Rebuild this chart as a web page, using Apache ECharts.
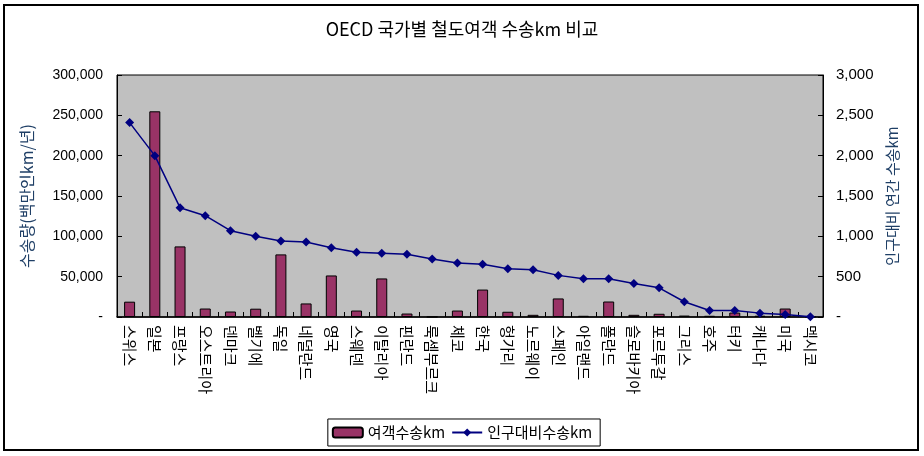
<!DOCTYPE html>
<html>
<head>
<meta charset="utf-8">
<script src="https://cdn.jsdelivr.net/npm/echarts@6/dist/echarts.min.js"></script>
<style>
html,body{margin:0;padding:0;background:#fff;}
#chart{position:absolute;left:0;top:0;width:924px;height:456px;}
#frame{position:absolute;left:3px;top:4px;width:912px;height:443px;border:2px solid #000;pointer-events:none;}
</style>
</head>
<body>
<div id="chart"></div>
<div id="frame"></div>
<script>
const chartTitle = 'OECD 국가별 철도여객 수송km 비교';
const categories = ['스위스','일본','프랑스','오스트리아','덴마크','벨기에','독일','네덜란드','영국','스웨덴','이탈리아','핀란드','룩셈부르크','체코','한국','헝가리','노르웨이','스페인','아일랜드','폴란드','슬로바키아','포르투갈','그리스','호주','터키','캐나다','미국','멕시코'];
const passengerKm = [19000,255000,87500,10500,6800,10300,77600,16800,51500,8000,47800,4300,300,8000,34000,6500,2700,23000,1500,19200,2700,4000,1800,1500,5500,1600,10500,400];
const perCapitaKm = [2410,2000,1355,1256,1070,1000,942,930,859,802,790,777,719,670,655,599,586,516,474,474,416,362,189,81,81,48,31,3];
const leftTicks = [0,50000,100000,150000,200000,250000,300000];
const rightTicks = [0,500,1000,1500,2000,2500,3000];
const seriesNames = ['여객수송km','인구대비수송km'];
const leftAxisName = '수송량(백만인km/년)';
const rightAxisName = '인구대비 연간 수송km';

function fmt(v){ return v === 0 ? '-' : v.toLocaleString('en-US'); }

const chart = echarts.init(document.getElementById('chart'), null, {renderer:'canvas'});
chart.setOption({
  animation:false,
  backgroundColor:'#fff',
  title:{
    text:chartTitle, left:'center', top:15,
    textStyle:{fontFamily:'Noto Sans CJK KR', fontSize:18, fontWeight:'normal', color:'#000'}
  },
  legend:{
    bottom:10, left:'center',
    data:seriesNames,
    borderColor:'#000', borderWidth:1, padding:[6,8,6,4],
    itemWidth:30, itemHeight:10, itemGap:6,
    textStyle:{fontFamily:'Noto Sans CJK KR', fontSize:15, color:'#000'}
  },
  grid:{
    left:117, right:101, top:75, bottom:139,
    show:true, backgroundColor:'#C0C0C0', borderColor:'#000', borderWidth:1
  },
  xAxis:{
    type:'category', data:categories,
    axisLine:{lineStyle:{color:'#000', width:1.5}},
    axisTick:{show:true, inside:true, length:5, lineStyle:{color:'#000'}},
    axisLabel:{rotate:-90, interval:0, margin:8, fontFamily:'Noto Sans CJK KR', fontSize:15, color:'#000'}
  },
  yAxis:[{
    type:'value', min:0, max:300000, interval:50000,
    name:leftAxisName, nameLocation:'middle', nameGap:82, nameRotate:90,
    nameTextStyle:{fontFamily:'Noto Sans CJK KR', fontSize:16, color:'#1F3F66'},
    axisLine:{show:true, lineStyle:{color:'#000'}},
    axisTick:{show:true, inside:true, length:5, lineStyle:{color:'#000'}},
    splitLine:{show:false},
    axisLabel:{formatter:fmt, margin:14, fontFamily:'Liberation Sans', fontSize:14, color:'#000'}
  },{
    type:'value', min:0, max:3000, interval:500,
    name:rightAxisName, nameLocation:'middle', nameGap:61, nameRotate:90,
    nameTextStyle:{fontFamily:'Noto Sans CJK KR', fontSize:15, color:'#1F3F66'},
    axisLine:{show:true, lineStyle:{color:'#000'}},
    axisTick:{show:true, inside:true, length:5, lineStyle:{color:'#000'}},
    splitLine:{show:false},
    axisLabel:{formatter:fmt, margin:13, fontFamily:'Liberation Sans', fontSize:15, color:'#000'}
  }],
  series:[{
    name:seriesNames[0], type:'bar', data:passengerKm, yAxisIndex:0,
    barWidth:11,
    itemStyle:{color:'#993366', borderColor:'#000', borderWidth:1}
  },{
    name:seriesNames[1], type:'line', data:perCapitaKm, yAxisIndex:1,
    symbol:'diamond', symbolSize:9,
    lineStyle:{color:'#000080', width:1.5},
    itemStyle:{color:'#000080'}
  }]
});
</script>
</body>
</html>
